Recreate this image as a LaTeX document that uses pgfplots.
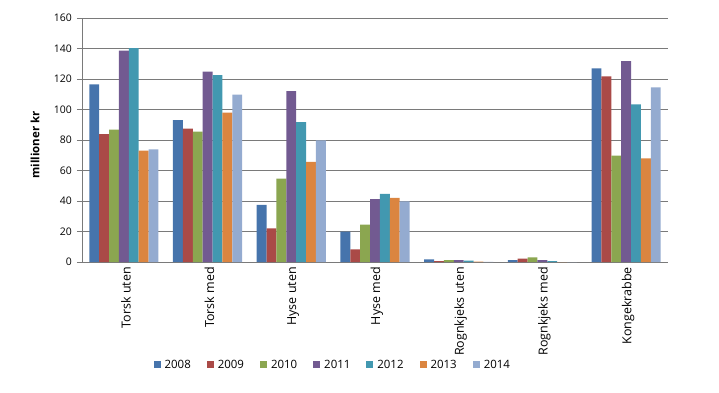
\documentclass[border=0pt]{standalone}
\usepackage{fontspec}
\setmainfont{Open Sans}
\usepackage{pgfplots}
\usepackage{pgfplotstable}
\pgfplotsset{compat=1.18}
\definecolor{c08}{HTML}{4674AC}
\definecolor{c09}{HTML}{AA4A47}
\definecolor{c10}{HTML}{8BA650}
\definecolor{c11}{HTML}{725A91}
\definecolor{c12}{HTML}{4298B0}
\definecolor{c13}{HTML}{DB8540}
\definecolor{c14}{HTML}{94ABD0}
\definecolor{gridc}{HTML}{7A7A7A}
\pgfplotstableread{
x a b c d e f g
0 116.5 83.8 86.8 138.6 140.3 73.0 73.9
1 93.1 87.4 85.5 124.8 122.6 97.9 109.7
2 37.4 22.1 54.6 112.1 91.8 65.6 79.8
3 19.9 8.3 24.5 41.3 44.6 42.0 39.8
4 1.7 0.5 1.3 1.3 0.9 0.3 0.1
5 1.3 2.2 3.1 1.3 0.6 0.0 0.0
6 127.0 121.7 69.7 131.8 103.4 68.0 114.5
}\data
\begin{document}
\begin{tikzpicture}
\path[use as bounding box] (-82bp,-131bp) rectangle (637bp,262bp);
\begin{axis}[
  scale only axis, width=586bp, height=244bp,
  at={(0,0)}, anchor=south west,
  ybar=0pt, bar width=0.118,
  xmin=-0.5, xmax=6.5, ymin=0, ymax=160,
  ytick={0,20,...,160},
  xtick={0,...,6},
  xticklabels={Torsk uten,Torsk med,Hyse uten,Hyse med,Rognkjeks uten,Rognkjeks med,Kongekrabbe},
  x tick label style={rotate=90, anchor=east, font=\fontsize{12.5}{14}\selectfont, inner sep=0pt, yshift=-2bp},
  y tick label style={font=\fontsize{10.5}{12}\selectfont, inner sep=0pt, xshift=-5bp},
  /pgf/number format/assume math mode=true,
  major x tick style={draw=none},
  extra x ticks={-0.5,0.5,...,6.5},
  extra x tick labels={},
  extra x tick style={major tick length=4bp, tick align=outside, tick style={draw=gridc, line width=0.6pt}},
  ytick style={draw=gridc, line width=0.6pt},
  major tick length=5bp, tick align=outside,
  axis x line*=bottom, axis y line*=left,
  axis line style={draw=gridc, line width=0.7pt},
  ymajorgrids, grid style={draw=gridc, line width=0.7pt},
  ylabel={\bfseries millioner kr},
  ylabel style={font=\fontsize{11.5}{13}\selectfont, at={(axis description cs:-0.080,0.48)}, anchor=center},
  legend columns=7,
  legend style={draw=none, fill=none, at={(axis description cs:0.428,-0.422)}, anchor=center,
    font=\fontsize{11.5}{13}\selectfont,
    /tikz/every odd column/.append style={column sep=2bp},
    /tikz/every even column/.append style={column sep=14bp}},
  legend image code/.code={\fill[#1] (0bp,-3.5bp) rectangle (7bp,3.5bp);},
  every axis plot/.append style={draw=none},
]
\addplot[fill=c08] table[x=x,y=a]{\data};
\addplot[fill=c09] table[x=x,y=b]{\data};
\addplot[fill=c10] table[x=x,y=c]{\data};
\addplot[fill=c11] table[x=x,y=d]{\data};
\addplot[fill=c12] table[x=x,y=e]{\data};
\addplot[fill=c13] table[x=x,y=f]{\data};
\addplot[fill=c14] table[x=x,y=g]{\data};
\legend{2008,2009,2010,2011,2012,2013,2014}
\end{axis}
\end{tikzpicture}
\end{document}
